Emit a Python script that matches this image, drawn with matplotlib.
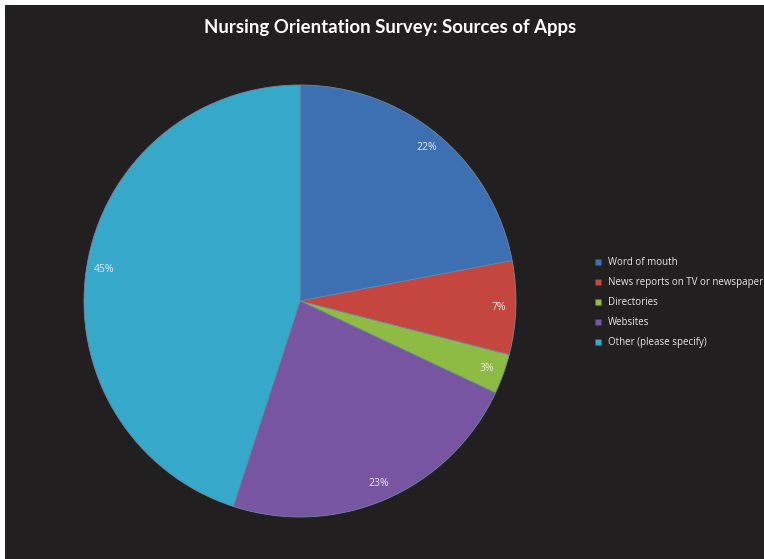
import matplotlib.pyplot as plt
from matplotlib.patches import Rectangle
from matplotlib.lines import Line2D

labels = ["Word of mouth", "News reports on TV or newspaper", "Directories",
          "Websites", "Other (please specify)"]
shares = [22, 7, 3, 23, 45]
colors = ["#3d70b2", "#c4463f", "#8dbb43", "#7755a0", "#36a9cb"]

BG = "#221f20"
W, H = 764, 559

fig = plt.figure(figsize=(W / 100, H / 100), dpi=100)
fig.patch.set_facecolor("white")
# dark chart area with a thin white strip on the left and top
fig.patches.append(Rectangle((5 / W, 0), 1, (H - 5) / H, transform=fig.transFigure,
                             facecolor=BG, edgecolor="none", zorder=-10))

cx, cy, r = 300, 301, 216
ax = fig.add_axes([(cx - r) / W, (H - cy - r) / H, 2 * r / W, 2 * r / H])
ax.set_zorder(1)
wedges, texts, autotexts = ax.pie(
    shares, colors=colors, startangle=90, counterclock=False,
    autopct="%d%%", pctdistance=0.92,
    wedgeprops=dict(edgecolor="#6f86a3", linewidth=0.6),
    textprops=dict(color="#eaeaea", fontsize=7.5, family="Open Sans"))
ax.set_xlim(-1, 1)
ax.set_ylim(-1, 1)
ax.axis("off")

fig.text(390 / W, 1 - 27 / H, "Nursing Orientation Survey: Sources of Apps",
         ha="center", va="center", color="white", fontsize=13.4,
         fontweight="bold", family="Lato")

handles = [Line2D([], [], marker="s", linestyle="none", markersize=4.5,
                  markerfacecolor=c, markeredgecolor="none") for c in colors]
fig.legend(handles, labels, loc="upper left",
           bbox_to_anchor=(595 / W, 1 - 257 / H), frameon=False,
           prop=dict(family="Open Sans", size=7), labelcolor="#e6e6e6",
           handlelength=0.6, handletextpad=0.7, labelspacing=0.93,
           borderpad=0, borderaxespad=0)

fig.savefig("out.png", dpi=100, facecolor=fig.get_facecolor())
